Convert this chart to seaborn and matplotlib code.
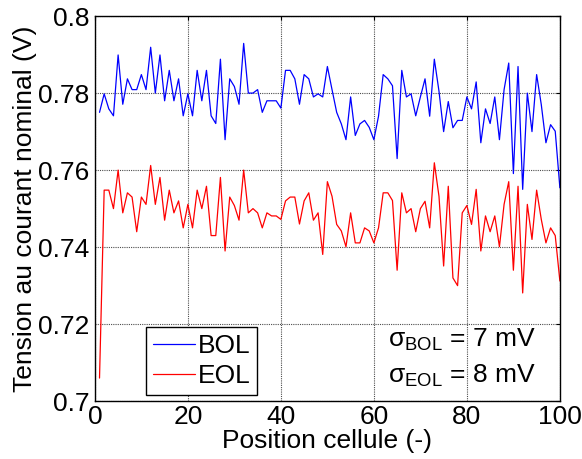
import numpy as np
import pandas as pd
import matplotlib
matplotlib.use("Agg")
import matplotlib.pyplot as plt
import seaborn as sns

# cell position 1..100
positions = list(range(1, 101))

# tension at nominal current (V)
bol = [0.7750, 0.7798, 0.7759, 0.7741, 0.7899, 0.7771, 0.7837, 0.7809, 0.7809, 0.7848,
       0.7809, 0.7919, 0.7800, 0.7899, 0.7780, 0.7859, 0.7780, 0.7837, 0.7741, 0.7798,
       0.7741, 0.7859, 0.7780, 0.7859, 0.7741, 0.7721, 0.7888, 0.7679, 0.7837, 0.7817,
       0.7771, 0.7929, 0.7800, 0.7800, 0.7809, 0.7750, 0.7780, 0.7780, 0.7780, 0.7761,
       0.7859, 0.7859, 0.7837, 0.7771, 0.7848, 0.7837, 0.7790, 0.7798, 0.7790, 0.7869,
       0.7809, 0.7750, 0.7720, 0.7679, 0.7790, 0.7690, 0.7720, 0.7729, 0.7711, 0.7679,
       0.7740, 0.7848, 0.7837, 0.7819, 0.7630, 0.7859, 0.7790, 0.7798, 0.7741, 0.7790,
       0.7837, 0.7740, 0.7888, 0.7805, 0.7700, 0.7778, 0.7710, 0.7729, 0.7729, 0.7790,
       0.7759, 0.7829, 0.7671, 0.7759, 0.7721, 0.7790, 0.7679, 0.7809, 0.7878, 0.7591,
       0.7869, 0.7550, 0.7800, 0.7700, 0.7848, 0.7770, 0.7671, 0.7718, 0.7701, 0.7554]

eol = [0.7060, 0.7548, 0.7548, 0.7500, 0.7600, 0.7489, 0.7541, 0.7530, 0.7440, 0.7530,
       0.7511, 0.7612, 0.7511, 0.7581, 0.7470, 0.7548, 0.7489, 0.7520, 0.7450, 0.7511,
       0.7450, 0.7548, 0.7500, 0.7558, 0.7430, 0.7430, 0.7581, 0.7390, 0.7530, 0.7508,
       0.7470, 0.7600, 0.7489, 0.7500, 0.7489, 0.7450, 0.7489, 0.7481, 0.7481, 0.7472,
       0.7520, 0.7530, 0.7530, 0.7460, 0.7520, 0.7541, 0.7470, 0.7489, 0.7381, 0.7570,
       0.7532, 0.7459, 0.7442, 0.7401, 0.7489, 0.7411, 0.7411, 0.7450, 0.7442, 0.7411,
       0.7450, 0.7541, 0.7541, 0.7521, 0.7340, 0.7541, 0.7489, 0.7500, 0.7440, 0.7500,
       0.7519, 0.7450, 0.7619, 0.7532, 0.7351, 0.7558, 0.7320, 0.7300, 0.7489, 0.7508,
       0.7459, 0.7550, 0.7390, 0.7481, 0.7440, 0.7481, 0.7401, 0.7511, 0.7570, 0.7340,
       0.7558, 0.7281, 0.7511, 0.7420, 0.7548, 0.7472, 0.7411, 0.7450, 0.7430, 0.7312]

series_names = ["BOL", "EOL"]
sigma_labels = ["7 mV", "8 mV"]

df = pd.DataFrame({
    "Position": positions * 2,
    "Tension": bol + eol,
    "Serie": ["BOL"] * len(bol) + ["EOL"] * len(eol),
})

sns.set_style("white")
plt.rcParams["font.family"] = ["Liberation Sans", "DejaVu Sans"]
plt.rcParams["mathtext.fontset"] = "custom"
plt.rcParams["mathtext.rm"] = "Liberation Sans"
plt.rcParams["text.color"] = "black"
plt.rcParams["axes.labelcolor"] = "black"

fig = plt.figure(figsize=(5.82, 4.59), dpi=100)
ax = fig.add_axes([0.163, 0.126, 0.799, 0.839])

sns.lineplot(data=df, x="Position", y="Tension", hue="Serie",
             palette={"BOL": "#0000ff", "EOL": "#ff0000"},
             linewidth=0.9, ax=ax, legend=False)

ax.set_xlim(0, 100)
ax.set_ylim(0.7, 0.8)
ax.set_xticks(np.arange(0, 101, 20))
ax.set_yticks(np.arange(0.70, 0.801, 0.02))
ax.set_yticklabels(["0.7", "0.72", "0.74", "0.76", "0.78", "0.8"])
ax.grid(True, color="#4d4d4d", linestyle=(0, (1, 1)), linewidth=0.8)
ax.tick_params(direction="in", length=3, top=True, right=True,
               labelsize=19, colors="black")
ax.tick_params(axis="x", pad=3)
ax.tick_params(axis="y", pad=4)
for sp in ax.spines.values():
    sp.set_color("black")
    sp.set_linewidth(1.0)

ax.set_xlabel("Position cellule (-)", fontsize=19, labelpad=0, color="black")
ax.set_ylabel("Tension au courant nominal (V)", fontsize=19, labelpad=1, color="black")

handles = [plt.Line2D([], [], color=c, linewidth=0.9) for c in ["#0000ff", "#ff0000"]]
leg = ax.legend(handles, series_names, loc="lower left",
                bbox_to_anchor=(0.11, 0.016), fontsize=19, frameon=True,
                fancybox=False, edgecolor="black", framealpha=1,
                handlelength=1.6, handletextpad=0.1, borderpad=0.25,
                labelspacing=0.25, borderaxespad=0, labelcolor="black")
leg.get_frame().set_linewidth(1.0)

ax.text(0.63, 0.16, "σ$_{\\mathregular{BOL}}$ = " + sigma_labels[0],
        transform=ax.transAxes, fontsize=19, ha="left", va="center", color="black")
ax.text(0.63, 0.065, "σ$_{\\mathregular{EOL}}$ = " + sigma_labels[1],
        transform=ax.transAxes, fontsize=19, ha="left", va="center", color="black")

fig.savefig("out.png", dpi=100)
